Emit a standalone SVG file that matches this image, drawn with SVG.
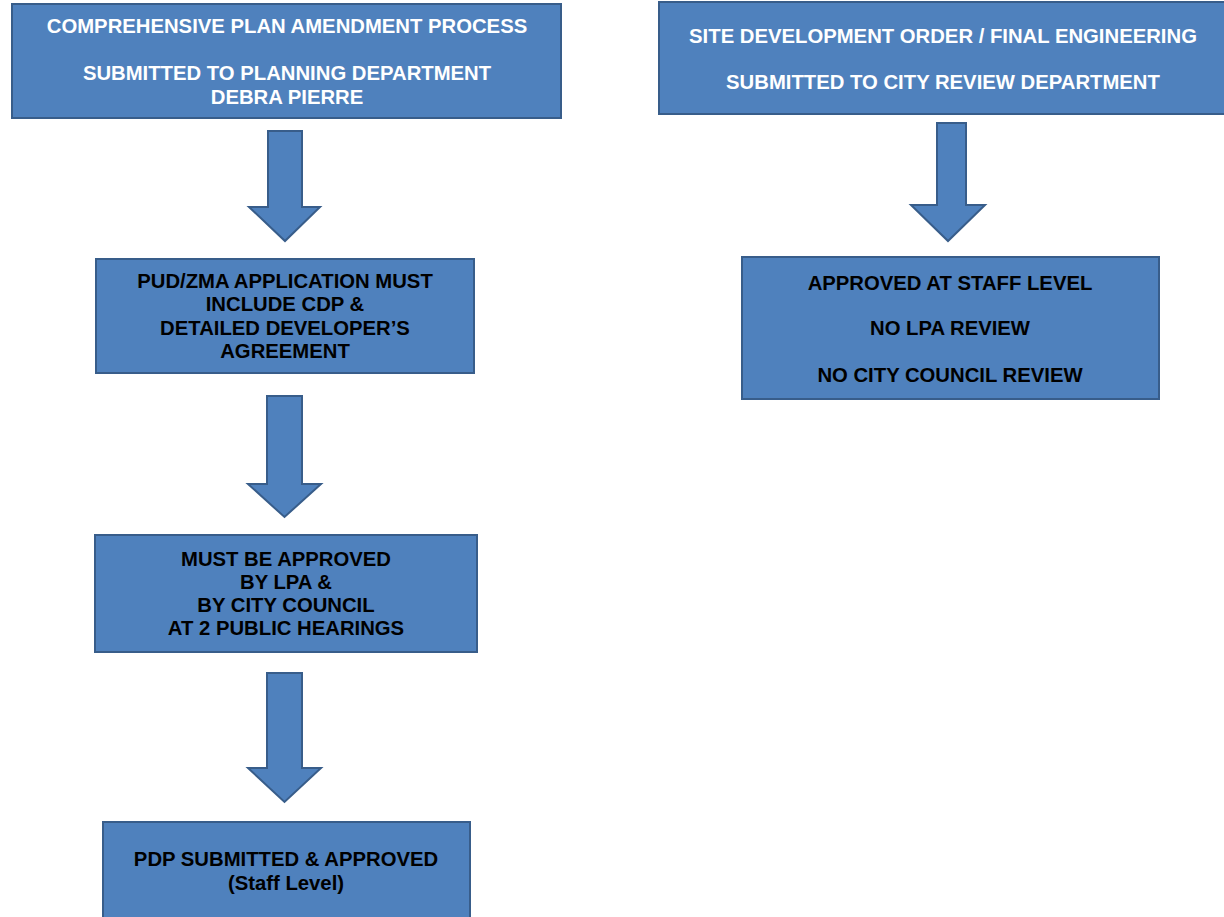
<svg xmlns="http://www.w3.org/2000/svg" width="1224" height="917" viewBox="0 0 1224 917">
<style>
.box{fill:#4f81bd;stroke:#385d8a;stroke-width:2}
.arr{fill:#4f81bd;stroke:#385d8a;stroke-width:2;stroke-linejoin:miter}
text{font-family:"Liberation Sans",Arial,sans-serif;font-weight:bold;font-size:20.3px;text-anchor:middle;dominant-baseline:central}
.w{fill:#ffffff}
.k{fill:#000000}
</style>
<rect width="1224" height="917" fill="#ffffff"/>
<g id="n1">
<rect class="box" x="12" y="4" width="549" height="114"/>
<text class="w" x="287" y="26">COMPREHENSIVE PLAN AMENDMENT PROCESS</text>
<text class="w" x="287" y="73">SUBMITTED TO PLANNING DEPARTMENT</text>
<text class="w" x="287" y="97">DEBRA PIERRE</text>
</g>
<g id="n2">
<rect class="box" x="96" y="259" width="378" height="114"/>
<text class="k" x="285" y="281">PUD/ZMA APPLICATION MUST</text>
<text class="k" x="285" y="304">INCLUDE CDP &amp;</text>
<text class="k" x="285" y="328">DETAILED DEVELOPER’S</text>
<text class="k" x="285" y="351">AGREEMENT</text>
</g>
<g id="n3">
<rect class="box" x="95" y="535" width="382" height="117"/>
<text class="k" x="286" y="559">MUST BE APPROVED</text>
<text class="k" x="286" y="582">BY LPA &amp;</text>
<text class="k" x="286" y="605">BY CITY COUNCIL</text>
<text class="k" x="286" y="628">AT 2 PUBLIC HEARINGS</text>
</g>
<g id="n4">
<rect class="box" x="103" y="822" width="367" height="100"/>
<text class="k" x="286" y="859">PDP SUBMITTED &amp; APPROVED</text>
<text class="k" x="286" y="883">(Staff Level)</text>
</g>
<g id="n5">
<rect class="box" x="659" y="2" width="570" height="112"/>
<text class="w" x="943" y="36">SITE DEVELOPMENT ORDER / FINAL ENGINEERING</text>
<text class="w" x="943" y="82">SUBMITTED TO CITY REVIEW DEPARTMENT</text>
</g>
<g id="n6">
<rect class="box" x="742" y="257" width="417" height="142"/>
<text class="k" x="950" y="283">APPROVED AT STAFF LEVEL</text>
<text class="k" x="950" y="328">NO LPA REVIEW</text>
<text class="k" x="950" y="375">NO CITY COUNCIL REVIEW</text>
</g>
<g id="connectors">
<polygon class="arr" points="268,131 302,131 302,207 320,207 285,241 249,207 268,207"/>
<polygon class="arr" points="267,396 302,396 302,484 321,484 284.5,517 248,484 267,484"/>
<polygon class="arr" points="267,673 302,673 302,768 321,768 284.5,802 248,768 267,768"/>
<polygon class="arr" points="937,123 966,123 966,205 985,205 948,241 911,205 937,205"/>
</g>
</svg>
